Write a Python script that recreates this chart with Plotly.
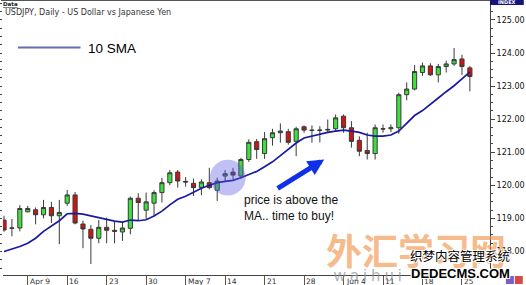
import plotly.graph_objects as go

# ---------------- data ----------------
idx = list(range(60))
opens = [118.95, 118.70, 118.71, 119.20, 119.26, 119.11, 119.33, 119.08, 119.46, 119.71,
         118.83, 118.67, 118.40, 118.73, 118.64, 118.59, 118.70, 119.61, 119.25, 119.46,
         119.78, 120.08, 120.40, 120.12, 120.06, 119.93, 120.08, 119.85, 120.28, 120.40,
         120.28, 120.78, 121.32, 120.96, 121.44, 121.59, 121.62, 121.33, 121.77, 121.67,
         121.66, 121.67, 121.71, 122.09, 121.74, 121.36, 121.05, 120.96, 121.70, 121.71,
         121.74, 122.74, 122.91, 123.41, 123.61, 123.34, 123.59, 123.67, 123.82, 123.55]
highs = [119.08, 118.98, 119.40, 119.38, 119.33, 119.56, 119.50, 119.56, 119.86, 119.80,
         118.93, 118.80, 118.95, 119.02, 118.93, 118.88, 119.66, 119.76, 119.78, 119.85,
         120.23, 120.46, 120.46, 120.25, 120.20, 120.18, 120.53, 120.23, 120.46, 120.53,
         120.83, 121.39, 121.40, 121.61, 121.71, 121.87, 121.71, 121.77, 121.81, 121.81,
         121.79, 121.99, 122.14, 122.14, 121.94, 121.48, 121.59, 121.84, 121.84, 121.84,
         122.80, 123.11, 123.64, 123.71, 123.69, 123.67, 123.77, 124.15, 123.95, 123.61]
lows = [118.60, 118.46, 118.61, 119.18, 118.82, 119.00, 118.86, 118.22, 119.38, 118.82,
        118.10, 117.62, 118.25, 118.25, 118.25, 118.32, 118.52, 118.95, 118.98, 119.08,
        119.48, 120.00, 119.93, 119.96, 119.68, 119.70, 119.88, 119.53, 120.13, 120.18,
        120.20, 120.71, 120.80, 120.80, 121.20, 121.29, 121.23, 120.88, 121.59, 121.29,
        121.30, 121.59, 121.64, 121.59, 121.14, 120.88, 120.78, 120.78, 121.59, 121.61,
        121.56, 122.57, 122.87, 123.31, 123.31, 123.11, 123.41, 123.61, 123.34, 122.84]
closes = [118.65, 118.71, 119.30, 119.30, 119.11, 119.33, 119.08, 119.18, 119.71, 118.86,
          118.68, 118.40, 118.73, 118.64, 118.61, 118.71, 119.61, 119.48, 119.50, 119.78,
          120.08, 120.38, 120.13, 120.10, 119.93, 120.10, 119.93, 120.13, 120.35, 120.31,
          120.78, 121.30, 121.08, 121.41, 121.59, 121.64, 121.30, 121.71, 121.67, 121.66,
          121.67, 121.69, 122.04, 121.74, 121.33, 121.03, 120.96, 121.74, 121.71, 121.74,
          122.74, 122.91, 123.44, 123.61, 123.34, 123.59, 123.67, 123.80, 123.59, 123.29]
sma10 = [118.00, 118.07, 118.15, 118.25, 118.40, 118.61, 118.77, 118.93, 119.14, 119.15,
         119.13, 119.08, 119.02, 118.96, 118.92, 118.89, 118.95, 118.93, 118.96, 119.07,
         119.22, 119.41, 119.58, 119.67, 119.80, 119.91, 120.00, 120.08, 120.12, 120.15,
         120.23, 120.32, 120.42, 120.56, 120.71, 120.90, 121.08, 121.28, 121.43, 121.49,
         121.54, 121.60, 121.64, 121.67, 121.64, 121.60, 121.52, 121.49, 121.49, 121.52,
         121.64, 121.87, 122.11, 122.26, 122.44, 122.64, 122.83, 123.01, 123.22, 123.43]
tick_pos = [3, 8, 13, 18, 23, 28, 33, 38, 43, 48, 53, 58]
tick_text = ["Apr 9", "16", "23", "30", "May 7", "14", "21", "28", "Jun 4", "11", "18", "25"]
y_ticks = [118, 119, 120, 121, 122, 123, 124, 125]

# ---------------- layout helpers ----------------
W, H = 526, 285
L, R, T, B = 2, 34, 1, 9
PW, PH = W - L - R, H - T - B
def px_x(px):
    return (px - L) / PW
def px_y(py):
    return (H - B - py) / PH

YR = [117.289, 125.572]
XR = [-0.13, 61.55]

fig = go.Figure()
fig.add_trace(go.Candlestick(
    x=idx, open=opens, high=highs, low=lows, close=closes,
    increasing=dict(fillcolor="#3ee03e", line=dict(color="#3a3a3a", width=1)),
    decreasing=dict(fillcolor="#d01414", line=dict(color="#3a3a3a", width=1)),
    whiskerwidth=0, hoverinfo="skip"))
fig.add_trace(go.Scatter(x=idx, y=sma10, mode="lines", yaxis="y2",
                         line=dict(color="#1a1a9e", width=1.7), hoverinfo="skip"))

font_small = "DejaVu Sans"
annotations = []
for p, t in zip(tick_pos, tick_text):
    annotations.append(dict(x=p, xref="x", y=0, yref="paper", yanchor="top", xanchor="left",
                            xshift=0, yshift=0, text=t, showarrow=False,
                            font=dict(family=font_small, size=7.5, color="#333")))

annotations += [
    dict(x=px_x(2), y=px_y(13), xref="paper", yref="paper", xanchor="left", yanchor="middle",
         text="USDJPY, Daily - US Dollar vs Japanese Yen", showarrow=False,
         font=dict(family=font_small, size=8, color="#333")),
    dict(x=px_x(1), y=px_y(4.5), xref="paper", yref="paper", xanchor="left", yanchor="middle",
         text="<b><u>Data</u></b>", showarrow=False, borderpad=0,
         font=dict(family=font_small, size=5.5, color="#222")),
    dict(x=px_x(86), y=px_y(48.5), xref="paper", yref="paper", xanchor="left", yanchor="middle",
         text="10 SMA", showarrow=False,
         font=dict(family="Liberation Sans", size=13.5, color="#000")),
    dict(x=px_x(242), y=px_y(208.5), xref="paper", yref="paper", xanchor="left", yanchor="middle",
         text="price is above the<br>MA.. time to buy!", showarrow=False, align="left",
         font=dict(family="Liberation Sans", size=12, color="#111")),
    dict(x=(325 - 3) / 7.94, y=125 - (160 - 20) / 33.2, xref="x", yref="y",
         ax=-48, ay=30, axref="pixel", ayref="pixel", text="", showarrow=True,
         arrowhead=2, arrowsize=0.65, arrowwidth=5, arrowcolor="#1030e8"),
    dict(x=px_x(509), y=px_y(2.5), xref="paper", yref="paper", xanchor="center", yanchor="middle",
         text="<b>INDEX</b>", showarrow=False, font=dict(family=font_small, size=5, color="#fff")),
    # watermarks
    dict(x=px_x(418), y=px_y(250), xref="paper", yref="paper", xanchor="center", yanchor="middle",
         text="<b>外汇学习网</b>", showarrow=False,
         font=dict(family="Noto Sans CJK SC", size=36, color="rgba(240,140,60,0.6)")),
    dict(x=px_x(332), y=px_y(277), xref="paper", yref="paper", xanchor="left", yanchor="middle",
         text="w a i h u i", showarrow=False,
         font=dict(family="Liberation Sans", size=16, color="rgba(140,140,140,0.7)")),
    dict(x=px_x(462), y=px_y(256), xref="paper", yref="paper", xanchor="center", yanchor="middle",
         text="织梦内容管理系统", showarrow=False,
         font=dict(family="Noto Sans CJK SC", size=12.5, color="#000",
                   shadow="1px 1px 0 #fff, -1px -1px 0 #fff, 1px -1px 0 #fff, -1px 1px 0 #fff")),
    dict(x=px_x(462), y=px_y(274.5), xref="paper", yref="paper", xanchor="center", yanchor="middle",
         text="<b>DEDECMS.COM</b>", showarrow=False,
         font=dict(family="Liberation Sans", size=13, color="#000",
                   shadow="1px 1px 0 #fff, -1px -1px 0 #fff, 1px -1px 0 #fff, -1px 1px 0 #fff")),
]

cx, cy, rpx = (228 - 3) / 7.94, 125 - (178.3 - 20) / 33.2, 18
shapes = [
    dict(type="circle", xref="x", yref="y", x0=cx - rpx / 7.94, x1=cx + rpx / 7.94,
         y0=cy - rpx / 33.2, y1=cy + rpx / 33.2, fillcolor="rgba(90,90,230,0.38)",
         line=dict(width=0), layer="above"),
    dict(type="line", xref="paper", yref="paper", x0=px_x(17), x1=px_x(80),
         y0=px_y(47.7), y1=px_y(47.7), line=dict(color="#6a6ab0", width=2)),
    dict(type="line", xref="paper", yref="paper", x0=px_x(0), x1=px_x(492),
         y0=px_y(0.5), y1=px_y(0.5), line=dict(color="#555", width=1)),
    dict(type="rect", xref="paper", yref="paper", x0=px_x(492), x1=px_x(526),
         y0=px_y(5), y1=px_y(0), fillcolor="#14147a", line=dict(width=0)),
    dict(type="rect", xref="paper", yref="paper", x0=px_x(508), x1=px_x(516),
         y0=px_y(285), y1=px_y(277), fillcolor="#7a5cc8", line=dict(width=0)),
    dict(type="rect", xref="paper", yref="paper", x0=px_x(517), x1=px_x(525),
         y0=px_y(285), y1=px_y(277), fillcolor="#d84848", line=dict(width=0)),
]

fig.update_layout(
    width=W, height=H, margin=dict(l=L, r=R, t=T, b=B),
    paper_bgcolor="white", plot_bgcolor="white", showlegend=False,
    boxgap=0.25,
    xaxis=dict(range=XR, showgrid=False, zeroline=False, showline=True, linecolor="#444",
               ticks="outside", ticklen=9, tickcolor="#555", tickvals=tick_pos,
               showticklabels=False, rangeslider=dict(visible=False), fixedrange=True),
    yaxis=dict(range=YR, side="right", showgrid=False, zeroline=False, showline=True,
               linecolor="#444", ticks="outside", ticklen=4, tickcolor="#444",
               tickvals=y_ticks, tickformat=".2f",
               tickfont=dict(family=font_small, size=8, color="#111"),
               minor=dict(dtick=0.25, ticks="outside", ticklen=2, tickcolor="#444")),
    yaxis2=dict(range=YR, overlaying="y", side="left", showgrid=False, zeroline=False,
                showline=False, ticks="outside", ticklen=2, tickcolor="#444", dtick=0.25,
                showticklabels=False),
    annotations=annotations, shapes=shapes,
)

fig.write_html("out.html")
